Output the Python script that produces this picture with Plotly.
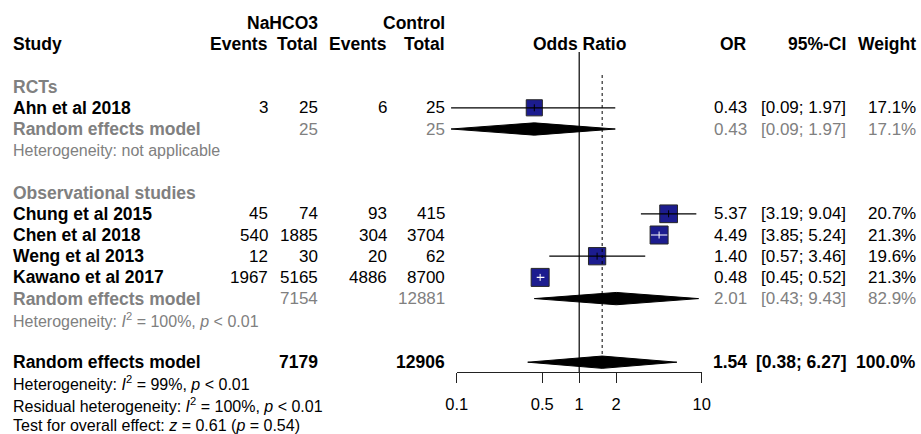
import plotly.graph_objects as go
import math

# ---------------- data ----------------
studies = ["Ahn et al 2018", "Chung et al 2015", "Chen et al 2018", "Weng et al 2013", "Kawano et al 2017"]
events_nahco3 = [3, 45, 540, 12, 1967]
total_nahco3 = [25, 74, 1885, 30, 5165]
events_control = [6, 93, 304, 20, 4886]
total_control = [25, 415, 3704, 62, 8700]
odds_ratio = [0.43, 5.37, 4.49, 1.40, 0.48]
ci_lower = [0.09, 3.19, 3.85, 0.57, 0.45]
ci_upper = [1.97, 9.04, 5.24, 3.46, 0.52]
weight = [17.1, 20.7, 21.3, 19.6, 21.3]

groups = ["RCTs", "Observational studies"]
group_members = [[0], [1, 2, 3, 4]]
group_total_nahco3 = [25, 7154]
group_total_control = [25, 12881]
group_or = [0.43, 2.01]
group_lower = [0.09, 0.43]
group_upper = [1.97, 9.43]
group_weight = [17.1, 82.9]
group_het = ["Heterogeneity: not applicable",
             "Heterogeneity: <i>I</i><sup>2</sup> = 100%, <i>p</i> &lt; 0.01"]

overall_total_nahco3 = 7179
overall_total_control = 12906
overall_or = 1.54
overall_lower = 0.38
overall_upper = 6.27
overall_weight = 100.0
overall_notes = ["Heterogeneity: <i>I</i><sup>2</sup> = 99%, <i>p</i> &lt; 0.01",
                 "Residual heterogeneity: <i>I</i><sup>2</sup> = 100%, <i>p</i> &lt; 0.01",
                 "Test for overall effect: <i>z</i> = 0.61 (<i>p</i> = 0.54)"]

tick_values = [0.1, 0.5, 1, 2, 10]
tick_labels = ["0.1", "0.5", "1", "2", "10"]

# ---------------- layout geometry ----------------
W, H = 921, 434
ROW0, ROWH = 23.0, 21.2          # pixel y of row 0, row height
FONT = "Liberation Sans, Arial, sans-serif"
FS = 17
FSB = 17.5
GREY = "#808080"
AXIS_Y = 372                     # pixel y of the x-axis line
X_LO_PX, X_HI_PX = 456.7, 701.7  # pixel positions of 0.1 and 10
PPD = (X_HI_PX - X_LO_PX) / 2.0  # pixels per decade
X1_PX = X_LO_PX + PPD

COL_LABEL = 13
COL_EV_T, COL_N_T, COL_EV_C, COL_N_C = 268, 318, 387, 445
COL_OR, COL_CI, COL_W = 747, 846, 916

def px(x):
    return x / W

group_rows = [(3, 4, 5, 6), (8, 9, 13, 14)]   # label row, first study row, RE row, het row
overall_row = 16
note_rows = [17, 18, 19]

annotations = []

def txt(x, r, s, anchor="right", bold=False, color="black", size=None):
    if size is None:
        size = FSB if bold else FS
    if bold:
        s = "<b>" + s + "</b>"
    annotations.append(dict(
        x=px(x), y=r, xref="paper", yref="y", text=s, showarrow=False,
        xanchor=anchor, yanchor="middle", borderpad=0, borderwidth=0,
        font=dict(family=FONT, size=size, color=color)))

# headers
txt(COL_N_T, 0, "NaHCO3", bold=True)
txt(COL_N_C, 0, "Control", bold=True)
txt(COL_LABEL, 1, "Study", anchor="left", bold=True)
txt(COL_EV_T, 1, "Events", bold=True)
txt(COL_N_T, 1, "Total", bold=True)
txt(COL_EV_C, 1, "Events", bold=True)
txt(COL_N_C, 1, "Total", bold=True)
txt(X1_PX, 1, "Odds Ratio", anchor="center", bold=True)
txt(COL_OR, 1, "OR", bold=True)
txt(COL_CI, 1, "95%-CI", bold=True)
txt(COL_W, 1, "Weight", bold=True)

study_rows = {}
for gi, (glab_row, first_row, re_row, het_row) in enumerate(group_rows):
    txt(COL_LABEL, glab_row, groups[gi], anchor="left", bold=True, color=GREY)
    for k, i in enumerate(group_members[gi]):
        r = first_row + k
        study_rows[i] = r
        txt(COL_LABEL, r, studies[i], anchor="left", bold=True)
        txt(COL_EV_T, r, str(events_nahco3[i]))
        txt(COL_N_T, r, str(total_nahco3[i]))
        txt(COL_EV_C, r, str(events_control[i]))
        txt(COL_N_C, r, str(total_control[i]))
        txt(COL_OR, r, f"{odds_ratio[i]:.2f}")
        txt(COL_CI, r, f"[{ci_lower[i]:.2f}; {ci_upper[i]:.2f}]")
        txt(COL_W, r, f"{weight[i]:.1f}%")
    txt(COL_LABEL, re_row, "Random effects model", anchor="left", bold=True, color=GREY)
    txt(COL_N_T, re_row, str(group_total_nahco3[gi]), color=GREY)
    txt(COL_N_C, re_row, str(group_total_control[gi]), color=GREY)
    txt(COL_OR, re_row, f"{group_or[gi]:.2f}", color=GREY)
    txt(COL_CI, re_row, f"[{group_lower[gi]:.2f}; {group_upper[gi]:.2f}]", color=GREY)
    txt(COL_W, re_row, f"{group_weight[gi]:.1f}%", color=GREY)
    txt(COL_LABEL, het_row, group_het[gi], anchor="left", color=GREY, size=16)

txt(COL_LABEL, overall_row, "Random effects model", anchor="left", bold=True)
txt(COL_N_T, overall_row, str(overall_total_nahco3), bold=True)
txt(COL_N_C, overall_row, str(overall_total_control), bold=True)
txt(COL_OR, overall_row, f"{overall_or:.2f}", bold=True)
txt(COL_CI, overall_row, f"[{overall_lower:.2f}; {overall_upper:.2f}]", bold=True)
txt(COL_W, overall_row, f"{overall_weight:.1f}%", bold=True)
for r, note in zip(note_rows, overall_notes):
    txt(COL_LABEL, r, note, anchor="left", size=16)

# ---------------- forest marks ----------------
fig = go.Figure()

sq_max = 18.0
sizes = [sq_max * math.sqrt(w / max(weight)) for w in weight]
rows = [study_rows[i] for i in range(len(studies))]

# squares
fig.add_trace(go.Scatter(
    x=odds_ratio, y=rows, mode="markers", xaxis="x", yaxis="y", opacity=1,
    marker=dict(symbol="square", size=sizes, color="#1c1c8f", opacity=1,
                line=dict(color="#262626", width=1)),
    hoverinfo="skip", showlegend=False))

# CI lines: white when the interval fits inside the square
inside = []
for i in range(len(studies)):
    half = sizes[i] / 2.0 / PPD
    inside.append(math.log10(odds_ratio[i]) - math.log10(ci_lower[i]) < half and
                  math.log10(ci_upper[i]) - math.log10(odds_ratio[i]) < half)
blk_x, blk_y, wht_x, wht_y = [], [], [], []
for i in range(len(studies)):
    tx, ty = (wht_x, wht_y) if inside[i] else (blk_x, blk_y)
    tx += [ci_lower[i], ci_upper[i], None]
    ty += [rows[i], rows[i], None]
fig.add_trace(go.Scatter(x=blk_x, y=blk_y, mode="lines", line=dict(color="black", width=1.2),
                         hoverinfo="skip", showlegend=False))
fig.add_trace(go.Scatter(x=wht_x, y=wht_y, mode="lines", line=dict(color="white", width=1.2),
                         hoverinfo="skip", showlegend=False))
fig.add_trace(go.Scatter(
    x=odds_ratio, y=rows, mode="markers",
    marker=dict(symbol="line-ns", size=5, opacity=1,
                line=dict(color=["white" if v else "black" for v in inside], width=1)),
    hoverinfo="skip", showlegend=False))

# diamonds
DH = 0.29
def diamond(est, lo, hi, r):
    fig.add_trace(go.Scatter(
        x=[lo, est, hi, est, lo], y=[r, r - DH, r, r + DH, r],
        mode="lines", fill="toself", fillcolor="black",
        line=dict(color="black", width=1), hoverinfo="skip", showlegend=False))

for gi, g in enumerate(group_rows):
    diamond(group_or[gi], group_lower[gi], group_upper[gi], g[2])
diamond(overall_or, overall_lower, overall_upper, overall_row)

# invisible trace to attach the visible tick axis
fig.add_trace(go.Scatter(x=[tick_values[0], tick_values[-1]], y=[overall_row, overall_row],
                         xaxis="x2", yaxis="y", mode="markers", marker=dict(opacity=0),
                         hoverinfo="skip", showlegend=False))

ymax_row = (H - ROW0) / ROWH
ymin_row = -ROW0 / ROWH
axis_row = (AXIS_Y - ROW0) / ROWH

shapes = [
    dict(type="line", xref="x", yref="y", x0=1, x1=1,
         y0=(52 - ROW0) / ROWH, y1=axis_row, line=dict(color="black", width=1.2)),
    dict(type="line", xref="x", yref="y", x0=overall_or, x1=overall_or,
         y0=(75 - ROW0) / ROWH, y1=overall_row - DH, line=dict(color="black", width=1, dash="dot")),
]

EXT = 1.2
fig.update_layout(
    width=W, height=H, autosize=False,
    margin=dict(l=0, r=0, t=0, b=0, pad=0, autoexpand=False),
    paper_bgcolor="white", plot_bgcolor="rgba(0,0,0,0)",
    showlegend=False,
    xaxis=dict(type="log", range=[-EXT, EXT],
               domain=[px(X1_PX - EXT * PPD), px(X1_PX + EXT * PPD)],
               visible=False, anchor="y", fixedrange=True),
    xaxis2=dict(type="log", range=[-1, 1], domain=[px(X_LO_PX), px(X_HI_PX)],
                anchor="free", position=(H - AXIS_Y) / H,
                showline=True, linecolor="#222", linewidth=1.2,
                ticks="outside", ticklen=10, tickwidth=1.2, tickcolor="#222",
                tickvals=tick_values, ticktext=tick_labels, showgrid=False, zeroline=False,
                ticklabelstandoff=7,
                tickfont=dict(family=FONT, size=16.5, color="black"), fixedrange=True),
    yaxis=dict(range=[ymax_row, ymin_row], domain=[0, 1], visible=False, fixedrange=True),
    annotations=annotations, shapes=shapes,
)

fig.write_html("out.html", config={"responsive": False, "displayModeBar": False})
